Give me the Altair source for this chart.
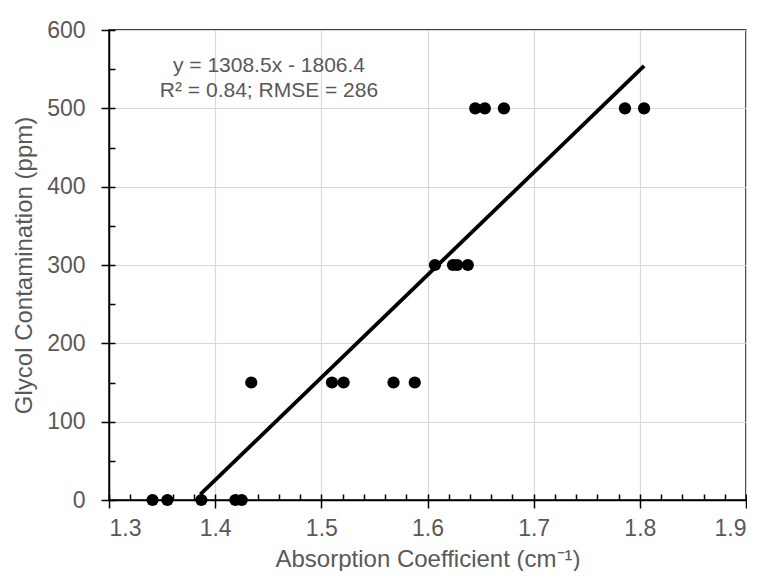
import altair as alt
import pandas as pd

# ---- data ----
ABS_0 = [1.341, 1.355, 1.387, 1.419, 1.425]
ABS_150 = [1.434, 1.510, 1.521, 1.568, 1.588]
ABS_300 = [1.607, 1.624, 1.628, 1.638]
ABS_500 = [1.645, 1.654, 1.672, 1.786, 1.804]
PPM_LEVELS = [0, 150, 300, 500]

SLOPE = 1308.5
INTERCEPT = -1806.4
LINE_X = [1.386, 1.804]

ANNOTATION = ["y = 1308.5x - 1806.4", "R² = 0.84; RMSE = 286"]
X_TITLE = "Absorption Coefficient (cm⁻¹)"
Y_TITLE = "Glycol Contamination (ppm)"

X_MAJOR = [1.3, 1.4, 1.5, 1.6, 1.7, 1.8, 1.9]
X_MINOR = [round(1.3 + 0.02 * i, 2) for i in range(31)]
Y_MAJOR = [0, 100, 200, 300, 400, 500, 600]
Y_MINOR = [50 * i for i in range(13)]

rows = []
for lvl, xs in zip(PPM_LEVELS, [ABS_0, ABS_150, ABS_300, ABS_500]):
    for v in xs:
        rows.append({"x": v, "y": lvl})
pts = pd.DataFrame(rows)
line_df = pd.DataFrame({"x": LINE_X, "y": [SLOPE * v + INTERCEPT for v in LINE_X]})

W, H = 637, 470
FONT = "Liberation Sans"
GRAY = "#595959"

xscale = alt.Scale(domain=[1.3, 1.9], nice=False, zero=False)
yscale = alt.Scale(domain=[0, 600], nice=False, zero=False)

points = alt.Chart(pts).mark_point(
    filled=True, color="black", size=150, opacity=1, shape="circle"
).encode(
    x=alt.X("x:Q", scale=xscale, axis=alt.Axis(
        values=X_MAJOR, format=".1f", title=X_TITLE, orient="bottom",
        grid=True, gridColor="#d9d9d9", gridWidth=1.2,
        tickSize=8, labelPadding=9, labelFontSize=23, titleFontSize=24,
        titlePadding=7, labelColor=GRAY, titleColor=GRAY,
        labelFont=FONT, titleFont=FONT, titleFontWeight="normal",
    )),
    y=alt.Y("y:Q", scale=yscale, axis=alt.Axis(
        values=Y_MAJOR, format="d", title=Y_TITLE, orient="left",
        grid=True, gridColor="#d9d9d9", gridWidth=1.2,
        tickSize=8, labelPadding=16, labelFontSize=23, titleFontSize=24,
        titlePadding=10, labelColor=GRAY, titleColor=GRAY,
        labelFont=FONT, titleFont=FONT, titleFontWeight="normal",
    )),
)

fit = alt.Chart(line_df).mark_line(color="black", strokeWidth=3.8).encode(
    x=alt.X("x:Q", scale=xscale, axis=alt.Axis(
        values=X_MINOR, orient="top", offset=-H, labels=False, grid=False,
        domain=False, title=None, tickSize=6,
    )),
    y=alt.Y("y:Q", scale=yscale, axis=alt.Axis(
        values=Y_MINOR, orient="right", offset=-W, labels=False, grid=False,
        domain=False, title=None, tickSize=6,
    )),
)

note = alt.Chart(alt.Data(values=[{}])).mark_text(
    text=ANNOTATION, font=FONT, fontSize=21, color=GRAY, align="center",
    baseline="alphabetic", lineHeight=25,
).encode(x=alt.value(160), y=alt.value(42))

chart = alt.layer(points, fit, note).resolve_axis(
    x="independent", y="independent"
).properties(
    width=W, height=H,
    padding={"left": 4, "top": 11, "right": 0, "bottom": 0},
).configure_view(
    stroke="black", strokeWidth=1.5
).configure_axis(
    domainColor="black", domainWidth=1.5, tickColor="black", tickWidth=1.5,
)

chart.save("out.html", embed_options={"renderer": "svg", "actions": False})
